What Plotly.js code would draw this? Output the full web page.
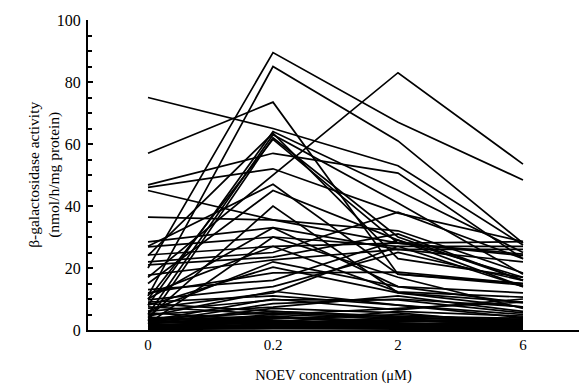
<!DOCTYPE html>
<html>
<head>
<meta charset="utf-8">
<script src="https://cdn.plot.ly/plotly-3.0.1.min.js"></script>
<style>html,body{margin:0;padding:0;background:#fff;}#chart{width:579px;height:388px;}</style>
</head>
<body>
<div id="chart"></div>
<script>
// NOEV concentrations (µM) shown as categories
const concLabels = ['0', '0.2', '2', '6'];
const concPos = [0, 1, 2, 3];

// β-galactosidase activity (nmol/h/mg protein) per sample, one array per concentration
const act0 = [20, 11, 17, 75, 57, 8, 5, 3, 10, 46.8, 46, 45, 36.4, 28.4, 26.8, 24.2, 22, 21, 17.7, 15,
  12, 13, 11.5, 10, 9.7, 8, 7, 6, 4, 2, 6, 9, 5, 3, 8.5, 4.5, 7.5, 2.5, 24, 27,
  3.5, 3, 2, 1.5, 1, 0.5, 4, 2.8, 1.2, 0.8, 2.2, 3.2, 0.3, 1.8, 2.6, 0.6, 3.8, 1.4, 2.4, 0.2,
  3.6, 1, 4.2, 0.4, 2, 5.5, 1.6, 0.9];
const act02 = [89.5, 85, 50, 65, 73.5, 64, 63, 62, 61.5, 57, 52, 35.5, 35.5, 33, 30, 27, 25, 23.5, 22.6, 45,
  18.4, 16, 27, 33, 14, 20.3, 12, 9.7, 40, 30, 22, 11, 7.4, 10, 6, 12.5, 5, 8.5, 63.5, 47,
  4, 2, 5, 3, 2.5, 1, 3, 6, 1.5, 0.5, 3.5, 4.5, 0.8, 2.2, 1.8, 1.2, 5.5, 0.9, 2.8, 0.4,
  2.4, 4, 1.6, 2, 7, 3.2, 1.1, 2.6];
const act2 = [67, 61, 83, 53, 18, 45, 41, 30, 28, 50.6, 37.7, 28, 32, 26, 27, 28, 38, 31, 26, 29,
  18.7, 29, 12.3, 14, 25, 12, 27, 9.7, 12, 17, 14, 8, 11, 6.5, 4.2, 8, 7, 10, 23, 18,
  3, 4, 3.5, 2, 1.5, 2, 1, 4.5, 1, 0.7, 5, 2.5, 0.5, 3.2, 2.8, 0.9, 3.8, 1.6, 1.2, 0.3,
  6, 2.2, 3.4, 1.3, 5.5, 2, 0.6, 1.8];
const act6 = [48.4, 28, 53.5, 27.4, 15, 25, 18, 16, 24, 23, 28.5, 24.5, 18.4, 26, 27, 28.5, 23, 16, 22, 14,
  15, 17, 10.6, 8.7, 16, 7.4, 14, 5.5, 9, 7, 12, 5, 6, 10, 3, 4, 9, 7.5, 17, 14.5,
  2.5, 3, 1.5, 2, 1, 0.5, 2, 3.8, 1.2, 0.6, 2.8, 4, 0.3, 1.8, 2.2, 0.8, 3.2, 1.4, 0.9, 0.2,
  4.5, 1.6, 2.6, 3.5, 2, 1, 0.4, 1.3];

const traces = [];
for (let i = 0; i < act0.length; i++) {
  traces.push({
    type: 'scatter', mode: 'lines',
    x: concPos.slice(),
    y: [act0[i], act02[i], act2[i], act6[i]],
    line: {color: '#000', width: 1.7},
    hoverinfo: 'skip', showlegend: false
  });
}

const serif = '"Liberation Serif", "Times New Roman", serif';
const layout = {
  width: 579, height: 388,
  margin: {l: 88, r: 0, t: 20, b: 58},
  paper_bgcolor: '#fff', plot_bgcolor: '#fff',
  showlegend: false,
  xaxis: {
    range: [-0.48, 3.448],
    tickvals: concPos, ticktext: concLabels,
    ticks: '', showgrid: false, zeroline: false,
    showline: true, linecolor: '#000', linewidth: 2,
    tickfont: {family: serif, size: 15, color: '#000'},
    title: {text: 'NOEV concentration (μM)', font: {family: serif, size: 14.5, color: '#000'}, standoff: 18}
  },
  yaxis: {
    range: [0, 100],
    tickvals: [0, 20, 40, 60, 80, 100],
    ticks: 'inside', ticklen: 5, tickwidth: 2, tickcolor: '#000',
    minor: {dtick: 5, ticks: 'inside', ticklen: 4, tickwidth: 2, tickcolor: '#000', showgrid: false},
    showgrid: false, zeroline: false,
    showline: true, linecolor: '#000', linewidth: 2,
    tickfont: {family: serif, size: 16, color: '#000'},
    ticklabelstandoff: 2
  },
  annotations: [{
    text: 'β-galactosidase activity<br>(nmol/h/mg protein)',
    xref: 'paper', yref: 'paper', x: -0.09, y: 0.5,
    xanchor: 'center', yanchor: 'middle', textangle: -90, showarrow: false,
    font: {family: serif, size: 15.5, color: '#000'}
  }]
};

Plotly.newPlot('chart', traces, layout, {displayModeBar: false, staticPlot: true});
</script>
</body>
</html>
